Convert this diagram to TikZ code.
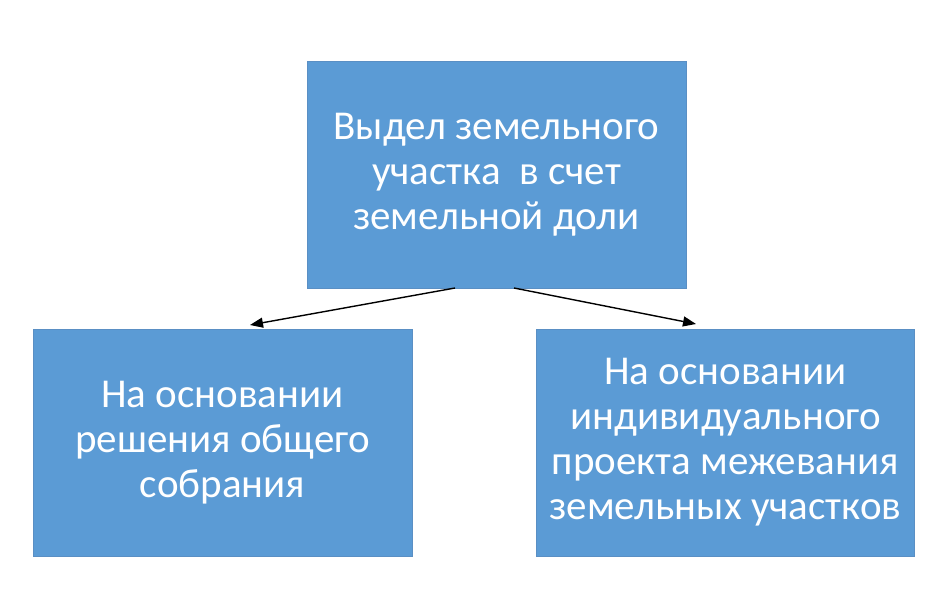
\documentclass[tikz,border=0pt]{standalone}
\usepackage{fontspec}
\setmainfont{Carlito}
\usetikzlibrary{arrows.meta}
\definecolor{boxblue}{HTML}{5B9BD5}
\definecolor{boxedge}{HTML}{5A8FC4}
\begin{document}
\begin{tikzpicture}[x=1pt,y=-1pt,
  blk/.style={draw=boxedge,line width=0.6pt,fill=boxblue,text=white,align=center,
    font=\fontsize{41}{45}\selectfont,inner sep=0pt},
  conn/.style={line width=1.4pt,-{Triangle[length=13pt,width=10pt]}}]
\useasboundingbox (0,0) rectangle (939,605);
\node[blk,minimum width=379pt,minimum height=227pt] (top) at (496.5,174.5)
  {Выдел земельного\\участка~ в счет\\земельной доли};
\node[blk,minimum width=379pt,minimum height=227pt] (left) at (222.5,442.5)
  {На основании\\решения общего\\собрания};
\node[blk,minimum width=378pt,minimum height=227pt] (right) at (725.5,442.5)
  {На основании\\индивидуального\\проекта межевания\\земельных участков};
\coordinate (s1) at (455,288);
\coordinate (e1) at (250,325);
\coordinate (s2) at (514,288);
\coordinate (e2) at (696,324);
\draw[conn] (s1) -- (e1);
\draw[conn] (s2) -- (e2);
\end{tikzpicture}
\end{document}
